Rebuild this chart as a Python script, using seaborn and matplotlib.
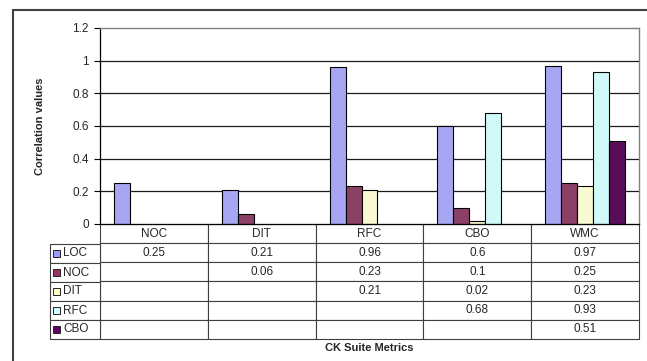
import numpy as np
import pandas as pd
import matplotlib
matplotlib.use("Agg")
import matplotlib.pyplot as plt
from matplotlib.patches import Rectangle
from matplotlib.lines import Line2D
import seaborn as sns

# data
categories = ["NOC", "DIT", "RFC", "CBO", "WMC"]
series = ["LOC", "NOC", "DIT", "RFC", "CBO"]
loc_vals = [0.25, 0.21, 0.96, 0.6, 0.97]
noc_vals = [np.nan, 0.06, 0.23, 0.1, 0.25]
dit_vals = [np.nan, np.nan, 0.21, 0.02, 0.23]
rfc_vals = [np.nan, np.nan, np.nan, 0.68, 0.93]
cbo_vals = [np.nan, np.nan, np.nan, np.nan, 0.51]
colors = ["#9999FF", "#993366", "#FFFFCC", "#CCFFFF", "#660066"]
yticks = [0, 0.2, 0.4, 0.6, 0.8, 1, 1.2]

values = [loc_vals, noc_vals, dit_vals, rfc_vals, cbo_vals]
df = pd.DataFrame(
    [(c, s, v) for s, vals in zip(series, values) for c, v in zip(categories, vals)],
    columns=["metric", "series", "value"],
)

sns.set_theme(style="white")
plt.rcParams["font.family"] = ["Liberation Sans", "DejaVu Sans"]

W, H = 647, 361
fs = 8.5
fig = plt.figure(figsize=(W / 100, H / 100), dpi=100)
# plot area in pixels: x 100..639, y 28..224
ax = fig.add_axes([100 / W, 1 - 224 / H, 539 / W, 196 / H])

sns.barplot(data=df.dropna(), x="metric", y="value", hue="series",
            order=categories, hue_order=series, palette=colors,
            width=0.74, edgecolor="black", linewidth=0.8,
            legend=False, ax=ax)

ax.set_xlim(-0.5, len(categories) - 0.5)
ax.set_ylim(0, 1.2)
ax.set_yticks(yticks)
ax.set_yticklabels([f"{t:g}" for t in yticks], fontsize=fs)
ax.set_xticks([])
ax.set_xlabel("")
ax.set_ylabel("Correlation values", fontsize=8, fontweight="bold", labelpad=20)
ax.tick_params(axis="y", direction="out", length=4, width=0.8, color="black", pad=4, left=True)
for t in yticks[1:-1]:
    ax.axhline(t, color="#1a1a1a", lw=0.9, zorder=0)
for side in ["left", "bottom"]:
    ax.spines[side].set_color("black")
    ax.spines[side].set_linewidth(0.9)
for side in ["top", "right"]:
    ax.spines[side].set_color("#808080")
    ax.spines[side].set_linewidth(1.0)

# data table under the plot
row_h = 19 / 196
head_h = 20 / 196
n = len(series)
cell_text = [["" if np.isnan(v) else f"{v:g}" for v in vals] for vals in values]
tbl = ax.table(cellText=cell_text, colLabels=categories, cellLoc="center",
               bbox=[0, -(head_h + n * row_h), 1, head_h + n * row_h])
tbl.auto_set_font_size(False)
tbl.set_fontsize(fs)
for (r, c), cell in tbl.get_celld().items():
    cell.set_edgecolor("#404040")
    cell.set_linewidth(0.8)
    cell.set_facecolor("white")

lab_w = 50 / 539
lab = ax.table(cellText=[[s] for s in series], cellLoc="left",
               bbox=[-lab_w, -(head_h + n * row_h), lab_w, n * row_h])
lab.auto_set_font_size(False)
lab.set_fontsize(fs)
for (r, c), cell in lab.get_celld().items():
    cell.set_edgecolor("#404040")
    cell.set_linewidth(0.8)
    cell.PAD = 0.27

sq_w, sq_h = 7 / 539, 7 / 196
for i, col in enumerate(colors):
    yc = -(head_h + (i + 0.5) * row_h)
    ax.add_patch(Rectangle((-47 / 539, yc - sq_h / 2), sq_w, sq_h,
                           transform=ax.transAxes, facecolor=col,
                           edgecolor="#222222", lw=0.7, clip_on=False))

fig.text(369 / W, 1 - 348 / H, "CK Suite Metrics", ha="center", va="center",
         fontsize=8, fontweight="bold")

# outer chart frame
fig.add_artist(Line2D([13 / W, 13 / W], [0, 1 - 10 / H], transform=fig.transFigure,
                      color="#404040", lw=1.5))
fig.add_artist(Line2D([13 / W, 1], [1 - 10 / H, 1 - 10 / H], transform=fig.transFigure,
                      color="#404040", lw=1.5))

fig.savefig("out.png", dpi=100)
